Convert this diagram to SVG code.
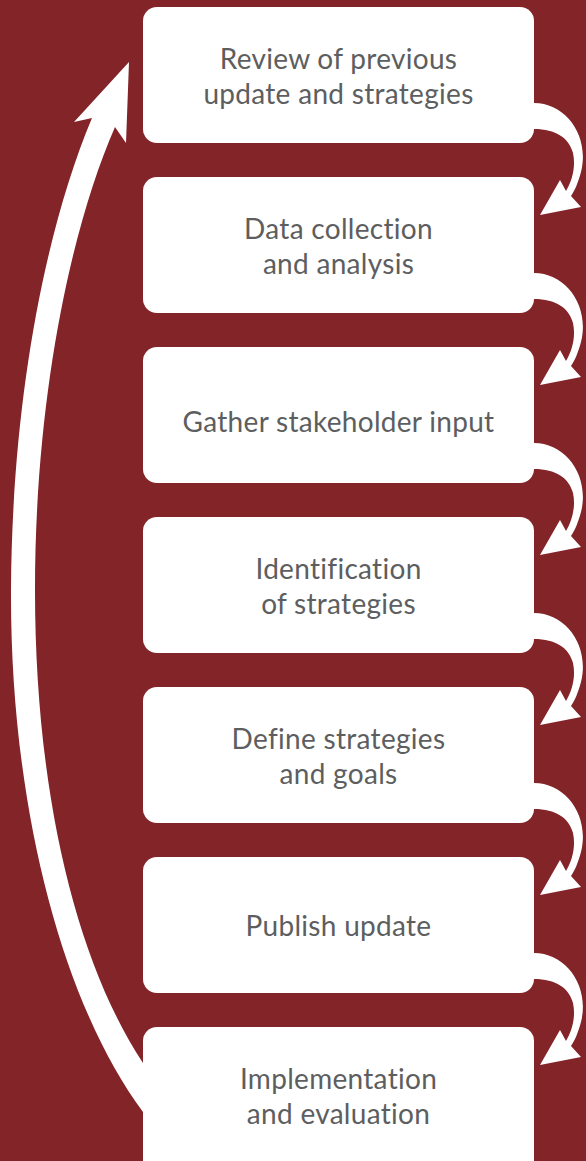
<svg xmlns="http://www.w3.org/2000/svg" width="586" height="1161" viewBox="0 0 586 1161">
<style>
.bg{fill:#832429}
.box{fill:#ffffff}
.t{font-family:Lato,"Noto Sans",sans-serif;font-size:28px;letter-spacing:0.3px;fill:#5d5e60;text-anchor:middle}
.arr{fill:#ffffff}
</style>
<defs>
<path id="loop" d="M534,103 C566,103 590,136 581,172 C578,183 575,190 571,196 L581,207 L540,215 L560,180 L566,191 C572,181 576,167 573,153 C569,138 556,129 534,129 Z"/>
</defs>
<rect class="bg" x="0" y="0" width="586" height="1161"/>
<g id="node1"><rect class="box" x="143" y="7" width="391" height="136" rx="14"/><text class="t" x="338.5" y="69">Review of previous</text><text class="t" x="338.5" y="104">update and strategies</text></g>
<g id="node2"><rect class="box" x="143" y="177" width="391" height="136" rx="14"/><text class="t" x="338.5" y="239">Data collection</text><text class="t" x="338.5" y="274">and analysis</text></g>
<g id="node3"><rect class="box" x="143" y="347" width="391" height="136" rx="14"/><text class="t" x="338.5" y="432">Gather stakeholder input</text></g>
<g id="node4"><rect class="box" x="143" y="517" width="391" height="136" rx="14"/><text class="t" x="338.5" y="579">Identification</text><text class="t" x="338.5" y="614">of strategies</text></g>
<g id="node5"><rect class="box" x="143" y="687" width="391" height="136" rx="14"/><text class="t" x="338.5" y="749">Define strategies</text><text class="t" x="338.5" y="784">and goals</text></g>
<g id="node6"><rect class="box" x="143" y="857" width="391" height="136" rx="14"/><text class="t" x="338.5" y="936">Publish update</text></g>
<g id="node7"><rect class="box" x="143" y="1027" width="391" height="150" rx="14"/><text class="t" x="338.5" y="1089">Implementation</text><text class="t" x="338.5" y="1124">and evaluation</text></g>
<g id="connectors">
<use href="#loop" class="arr"/>
<use href="#loop" class="arr" y="170"/>
<use href="#loop" class="arr" y="340"/>
<use href="#loop" class="arr" y="510"/>
<use href="#loop" class="arr" y="680"/>
<use href="#loop" class="arr" y="850"/>
<path class="arr" d="M143,1112 C60,1000 10,800 11,590 C12,400 45,230 92,118 L74,122 L129,62 L126,143 L115,127 C70,230 35,400 35,590 C35,790 75,960 143,1063 Z"/>
</g>
</svg>
